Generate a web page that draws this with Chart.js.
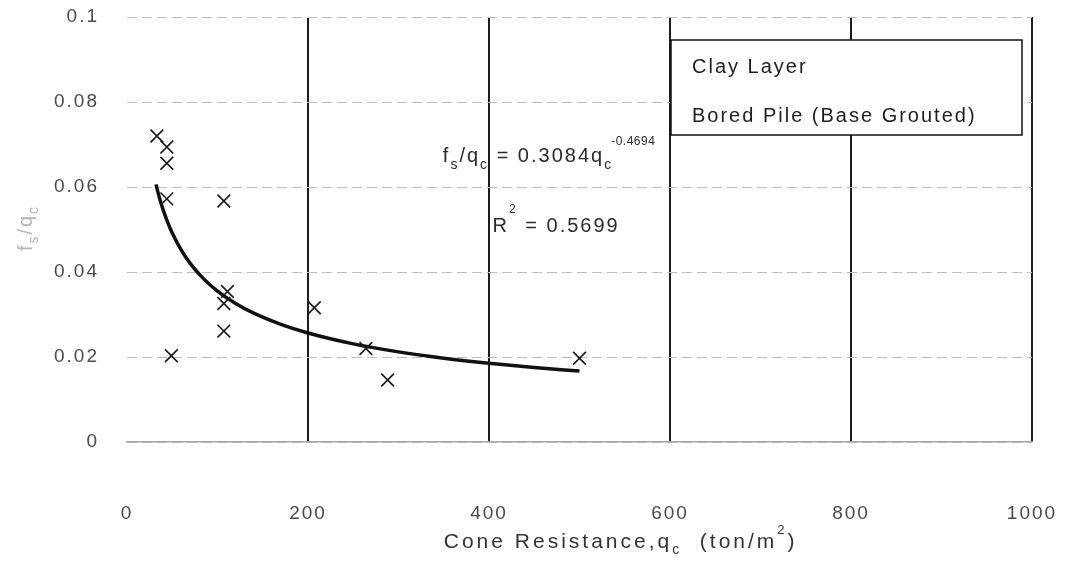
<!DOCTYPE html>
<html lang="en">
<head>
    <meta charset="UTF-8">
    <title>Clay Layer - fs/qc vs qc</title>
    <script src="https://cdn.jsdelivr.net/npm/chart.js"></script>
    <style>
        html, body {
            margin: 0;
            padding: 0;
            background-color: white;
        }

        #wrap {
            width: 1074px;
            height: 565px;
        }
    </style>
</head>
<body>
    <div id="wrap">
        <canvas id="fsqcChart" width="1074" height="565"></canvas>
    </div>

    <script>
        // measured points: cone resistance qc (ton/m2) and fs/qc
        const qcValues = [33, 44, 44, 44, 49, 107, 107, 107, 111, 207, 264, 288, 500];
        const ratioValues = [0.0720, 0.0694, 0.0656, 0.0572, 0.0203, 0.0567, 0.0326, 0.0261, 0.0354, 0.0316, 0.0220, 0.0146, 0.0197];

        // power trendline fs/qc = a * qc^b
        const trendCoef = 0.3084;
        const trendExp = -0.4694;
        const rSquared = 0.5699;
        const trendQc = [32, 36, 40, 45, 50, 60, 70, 85, 100, 120, 140, 170, 200, 250, 300, 350, 400, 450, 500];

        const xTicks = [0, 200, 400, 600, 800, 1000];
        const yTicks = [0, 0.02, 0.04, 0.06, 0.08, 0.1];

        const legendLines = ['Clay Layer', 'Bored Pile (Base Grouted)'];

        const FONT = '"Liberation Sans", Arial, sans-serif';
        const SPACING = '2px';

        const scatterData = qcValues.map((q, i) => ({ x: q, y: ratioValues[i] }));
        const trendData = trendQc.map(q => ({ x: q, y: trendCoef * Math.pow(q, trendExp) }));

        // draws text pieces left to right, each with its own size and baseline shift
        function drawRich(ctx, x, y, parts, color) {
            ctx.fillStyle = color;
            ctx.textBaseline = 'alphabetic';
            ctx.textAlign = 'left';
            let cx = x;
            parts.forEach(([text, size, dy]) => {
                ctx.font = size + 'px ' + FONT;
                ctx.fillText(text, cx, y + dy);
                cx += ctx.measureText(text).width;
            });
            return cx - x;
        }

        function richWidth(ctx, parts) {
            let w = 0;
            parts.forEach(([text, size]) => {
                ctx.font = size + 'px ' + FONT;
                w += ctx.measureText(text).width;
            });
            return w;
        }

        const spacingPlugin = {
            id: 'spacing',
            beforeLayout(chart) { chart.ctx.letterSpacing = SPACING; },
            beforeDraw(chart) { chart.ctx.letterSpacing = SPACING; }
        };

        const notesPlugin = {
            id: 'notes',
            afterDraw(chart) {
                const ctx = chart.ctx;
                const xs = chart.scales.x;
                const ys = chart.scales.y;
                const area = chart.chartArea;
                ctx.save();
                ctx.letterSpacing = SPACING;

                // trendline equation and R2
                const eq = [
                    ['f', 20, 0], ['s', 14, 7], ['/q', 20, 0], ['c', 14, 7],
                    [' = ' + trendCoef.toFixed(4) + 'q', 20, 0], ['c', 14, 7]
                ];
                const ex = xs.getPixelForValue(349);
                const ey = ys.getPixelForValue(0.0659);
                const ew = drawRich(ctx, ex, ey, eq, '#2a2a2a');
                ctx.letterSpacing = '0.5px';
                drawRich(ctx, ex + ew - 2, ey - 17, [[trendExp.toFixed(4), 12, 0]], '#2a2a2a');
                ctx.letterSpacing = SPACING;

                const r2 = [['R', 20, 0], ['2', 12, -19], [' = ' + rSquared.toFixed(4), 20, 0]];
                drawRich(ctx, xs.getPixelForValue(404), ys.getPixelForValue(0.0494), r2, '#2a2a2a');

                // legend box
                const bx = xs.getPixelForValue(600) + 1;
                const bw = area.right - 10 - bx;
                const by = area.top + 23;
                const bh = 95;
                ctx.fillStyle = 'white';
                ctx.fillRect(bx, by, bw, bh);
                ctx.strokeStyle = '#111';
                ctx.lineWidth = 1.5;
                ctx.strokeRect(bx, by, bw, bh);
                legendLines.forEach((t, i) => {
                    drawRich(ctx, bx + 21, by + 33 + i * 49, [[t, 20, 0]], '#1e1e1e');
                });

                // x axis title
                ctx.letterSpacing = '3px';
                const xt = [
                    ['Cone Resistance,q', 21, 0], ['c', 14, 6],
                    ['  (ton/m', 21, 0], ['2', 13, -14], [')', 21, 0]
                ];
                drawRich(ctx, xs.getPixelForValue(350), 548, xt, '#333');

                // y axis title, rotated
                ctx.letterSpacing = SPACING;
                const yt = [['f', 20, 0], ['s', 14, 6], ['/q', 20, 0], ['c', 14, 6]];
                const yw = richWidth(ctx, yt);
                ctx.translate(32, 228);
                ctx.rotate(-Math.PI / 2);
                drawRich(ctx, -yw / 2, 0, yt, '#b4b4b4');

                ctx.restore();
            }
        };

        new Chart(document.getElementById('fsqcChart').getContext('2d'), {
            type: 'scatter',
            data: {
                datasets: [{
                    label: 'Measured',
                    data: scatterData,
                    pointStyle: 'crossRot',
                    pointRadius: 9,
                    pointBorderWidth: 1.6,
                    borderColor: '#1a1a1a',
                    backgroundColor: '#1a1a1a'
                }, {
                    label: 'Power trend',
                    data: trendData,
                    showLine: true,
                    pointRadius: 0,
                    borderColor: '#111',
                    borderWidth: 3.5,
                    cubicInterpolationMode: 'monotone',
                    fill: false
                }]
            },
            options: {
                responsive: false,
                animation: false,
                layout: {
                    padding: { top: 17, right: 42, left: 0, bottom: 0 }
                },
                plugins: {
                    legend: { display: false },
                    tooltip: { enabled: false }
                },
                scales: {
                    x: {
                        type: 'linear',
                        min: xTicks[0],
                        max: xTicks[xTicks.length - 1],
                        afterBuildTicks(scale) {
                            scale.ticks = xTicks.map(v => ({ value: v }));
                        },
                        afterFit(scale) {
                            scale.height = 123;
                        },
                        ticks: {
                            padding: 0,
                            color: '#4a4a4a',
                            font: { family: FONT, size: 19 },
                            maxRotation: 0,
                            callback: v => String(v)
                        },
                        grid: {
                            drawTicks: true,
                            tickLength: 60,
                            tickColor: 'rgba(0,0,0,0)',
                            lineWidth: 2,
                            color: ctx => (ctx.tick && ctx.tick.value === 0) ? 'rgba(0,0,0,0)' : '#1c1c1c'
                        },
                        border: {
                            display: true,
                            color: '#a8a8a8',
                            width: 1.5
                        }
                    },
                    y: {
                        type: 'linear',
                        min: yTicks[0],
                        max: yTicks[yTicks.length - 1],
                        afterBuildTicks(scale) {
                            scale.ticks = yTicks.map(v => ({ value: v }));
                        },
                        afterFit(scale) {
                            scale.width = 127;
                        },
                        ticks: {
                            padding: 0,
                            color: '#4a4a4a',
                            font: { family: FONT, size: 19 },
                            callback: v => String(+v.toFixed(2))
                        },
                        grid: {
                            drawTicks: true,
                            tickLength: 28,
                            tickColor: 'rgba(0,0,0,0)',
                            lineWidth: 1,
                            color: '#bdbdbd'
                        },
                        border: {
                            display: false,
                            dash: [10, 5]
                        }
                    }
                }
            },
            plugins: [spacingPlugin, notesPlugin]
        });
    </script>
</body>
</html>
